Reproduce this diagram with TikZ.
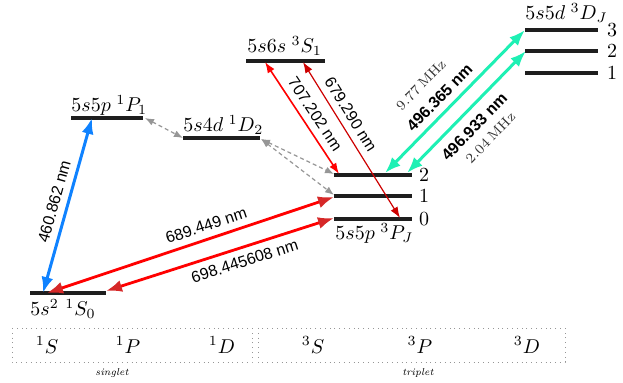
\documentclass[tikz,border=0pt]{standalone}
\usepackage{amsmath,amssymb}
\usepackage{fontspec}
\newfontfamily\arial{Liberation Sans}
\usetikzlibrary{arrows.meta}

\definecolor{lvl}{RGB}{30,30,30}
\definecolor{sblue}{RGB}{15,130,255}
\definecolor{sred}{RGB}{255,0,0}
\definecolor{sredhead}{RGB}{214,40,40}
\definecolor{sdred}{RGB}{205,0,0}
\definecolor{steal}{RGB}{30,240,180}
\definecolor{sgray}{RGB}{150,150,150}

\tikzset{
  level/.style={line width=1.7pt, lvl},
  bigarr/.style={line width=1.5pt, >={Latex[length=8pt,width=6pt]}, <->},
  redarr/.style={sred, line width=1.4pt, >={Latex[length=8pt,width=6pt,color=sredhead]}, <->},
  thinarr/.style={line width=0.8pt, >={Latex[length=5.5pt,width=4pt]}, <->},
  grayarr/.style={sgray, line width=0.6pt, dash pattern=on 2pt off 1.5pt, >={Latex[length=4.5pt,width=3.5pt]}, <->},
  nm/.style={font=\arial\footnotesize, text=black},
  nmb/.style={font=\arial\bfseries\footnotesize, text=black},
  mhz/.style={font=\scriptsize, text=black!80},
  termbox/.style={sgray, dotted, line width=0.4pt}
}

\begin{document}
\begin{tikzpicture}[x=0.5pt, y=-0.5pt, every node/.style={font=\normalsize}]
	\useasboundingbox (0,0) rectangle (623,383);
	% levels
	\foreach \xa/\xb/\y in {30/106/293, 71/143/118, 183/260/138, 246/325/61, 334/412/175, 334/412/196, 334/412/219, 525/598/30, 525/598/51, 525/598/73}
		\draw[level] (\xa,\y) -- (\xb,\y);
	\node[anchor=base west, inner sep=0pt] (gslab) at (30,316) {$5s^2\ {}^1S_0$};
	\node[anchor=base west, inner sep=0pt] (p1lab) at (71,112) {$5s5p\;{}^1P_1$};
	\node[anchor=base west, inner sep=0pt] (d1lab) at (183,132) {$5s4d\;{}^1D_2$};
	\node[anchor=base west, inner sep=0pt] (s3lab) at (247,53) {$5s6s\;{}^3S_1$};
	\node[anchor=base west, inner sep=0pt] (p3lab) at (335,240) {$5s5p\;{}^3P_J$};
	\node[anchor=base west, inner sep=0pt] (d3lab) at (525,20) {$5s5d\;{}^3D_J$};
	\foreach \j/\y in {2/175, 1/196, 0/219}
		\node (pj\j) at (424,\y) {\j};
	\foreach \j/\y in {3/30, 2/51, 1/73}
		\node (dj\j) at (612,\y) {\j};
	% arrow ends
	\coordinate (gsA) at (43,293);
	\coordinate (gsB) at (47,293);
	\coordinate (gsC) at (106,291);
	\coordinate (p1A) at (92,118);
	\coordinate (p1B) at (145,118);
	\coordinate (d1A) at (183,138);
	\coordinate (d1B) at (261,139);
	\coordinate (s3A) at (265,62);
	\coordinate (s3B) at (303,62);
	\coordinate (p2A) at (334,174);
	\coordinate (p2B) at (339,174);
	\coordinate (p2C) at (385,173);
	\coordinate (p2D) at (407,173);
	\coordinate (p1j) at (334,195);
	\coordinate (p1k) at (334,197);
	\coordinate (p0A) at (334,218);
	\coordinate (p0B) at (400,218);
	\coordinate (d3A) at (525,30);
	\coordinate (d2A) at (526,51);
	% transitions
	\draw[bigarr, sblue] (gsA) -- (p1A) node[midway, above, sloped, nm] {460.862 nm};
	\draw[redarr] (gsB) -- (p1k) node[pos=0.57, above, sloped, nm] {689.449 nm};
	\draw[redarr] (gsC) -- (p0A) node[pos=0.59, below, sloped, nm] {698.445608 nm};
	\draw[thinarr, sred] (s3A) -- (p2B) node[pos=0.53, above, sloped, nm] {707.202 nm};
	\draw[thinarr, sdred, line width=0.6pt] (s3B) -- (p0B) node[pos=0.38, above, sloped, nm] {679.290 nm};
	\draw[grayarr] (p1B) -- (d1A);
	\draw[grayarr] (d1B) -- (p2A);
	\draw[grayarr] (d1B) -- (p1j);
	\draw[bigarr, steal] (p2C) -- (d3A)
		node[pos=0.46, above, sloped, nmb] {496.365 nm}
		node[pos=0.44, above=11.5pt, sloped, mhz] {$9.77\,\mathrm{MHz}$};
	\draw[bigarr, steal] (p2D) -- (d2A)
		node[pos=0.47, below=1pt, sloped, nmb] {496.933 nm}
		node[pos=0.49, below=11pt, sloped, mhz] {$2.04\,\mathrm{MHz}$};
	% term boxes
	\draw[termbox] (12,328) rectangle (252,362);
	\draw[termbox] (258,328) rectangle (565,362);
	\foreach \x/\t in {47/{^1S}, 128/{^1P}, 222/{^1D}, 313/{^3S}, 420/{^3P}, 527/{^3D}}
		\node at (\x,345) {${}\t$};
	\node[font=\tiny\itshape] (sing) at (112,373) {singlet};
	\node[font=\tiny\itshape] (trip) at (418,373) {triplet};
\end{tikzpicture}
\end{document}
